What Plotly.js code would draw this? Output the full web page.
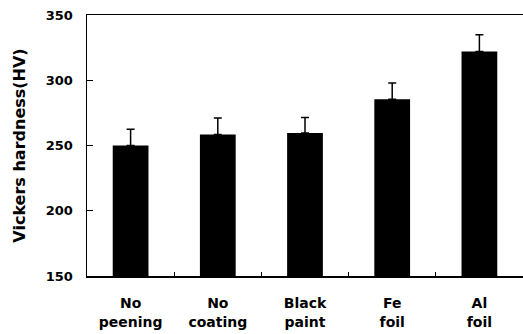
<!DOCTYPE html>
<html><head><meta charset="utf-8">
<script src="https://cdn.plot.ly/plotly-3.0.1.min.js"></script>
<style>html,body{margin:0;padding:0;overflow:hidden;background:#fff}</style>
</head><body><div id="chart" style="width:523px;height:334px"></div>
<script>
const categories = ["No<br>peening", "No<br>coating", "Black<br>paint", "Fe<br>foil", "Al<br>foil"];
const hardness = [250, 258.5, 259.5, 285.5, 322];
const errorUp = [12.5, 12.5, 12, 12.3, 12.8];
const yTicks = [150, 200, 250, 300, 350];

const yfont = {family: "DejaVu Sans", size: 13, color: "#000", weight: "bold"};
const xfont = {family: "DejaVu Sans", size: 14, color: "#000", weight: "bold"};
Plotly.newPlot("chart", [{
  type: "bar", x: categories, y: hardness,
  marker: {color: "#000"}, width: 0.41,
  error_y: {type: "data", symmetric: false, array: errorUp, arrayminus: [0,0,0,0,0],
            color: "#000", thickness: 1.5, width: 4}
}], {
  width: 523, height: 334,
  margin: {l: 87, r: 0, t: 15, b: 58},
  paper_bgcolor: "#fff", plot_bgcolor: "#fff",
  showlegend: false,
  xaxis: {range: [-0.5, 4.5], showline: true, linecolor: "#000", linewidth: 1.5, mirror: true,
          ticks: "inside", tickson: "boundaries", ticklen: 4, tickcolor: "#000",
          tickfont: xfont, ticklabelstandoff: 14, showgrid: false, zeroline: false, fixedrange: true},
  yaxis: {range: [150, 350], tickvals: yTicks, showline: true, linecolor: "#000", linewidth: 1.5,
          ticks: "inside", ticklen: 6, tickcolor: "#000", tickfont: yfont, ticklabelstandoff: 10,
          showgrid: false, zeroline: false,
          title: {text: "Vickers hardness(HV)", font: {family: "DejaVu Sans", size: 16, color: "#000", weight: "bold"}, standoff: 16}}
}, {staticPlot: true});
</script></body></html>
